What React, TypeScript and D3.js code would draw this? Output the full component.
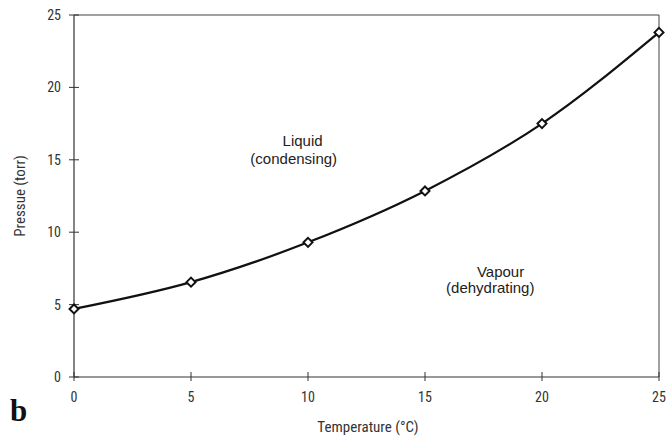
import React from 'react';
import * as d3 from 'd3';

const temps = [0, 5, 10, 15, 20, 25];
const pressures = [4.7, 6.55, 9.3, 12.85, 17.5, 23.8];
const xTicks = [0, 5, 10, 15, 20, 25];
const yTicks = [0, 5, 10, 15, 20, 25];

const W = 670;
const H = 437;
const M = { left: 74, right: 11, top: 15, bottom: 60 };
const NARROW = '"Liberation Sans Narrow", "Arial Narrow", "Roboto Condensed", Roboto, sans-serif';

export default function App() {
  const x = d3.scaleLinear().domain([0, 25]).range([M.left, W - M.right]);
  const y = d3.scaleLinear().domain([0, 25]).range([H - M.bottom, M.top]);
  const pts = temps.map((t, i) => [t, pressures[i]] as [number, number]);
  const line = d3.line<[number, number]>()
    .x(d => x(d[0]))
    .y(d => y(d[1]))
    .curve(d3.curveMonotoneX);
  const diamond = (cx: number, cy: number, r: number) =>
    `M${cx},${cy - r}L${cx + r},${cy}L${cx},${cy + r}L${cx - r},${cy}Z`;

  return (
    <svg width={W} height={H} style={{ position: 'absolute', left: 0, top: 0, background: '#fff' }}>
      {/* frame */}
      <line x1={x(0)} x2={x(25)} y1={y(25)} y2={y(25)} stroke="#444" strokeWidth={1} />
      <line x1={x(25)} x2={x(25)} y1={y(25)} y2={y(0)} stroke="#444" strokeWidth={1} />
      <line x1={x(0)} x2={x(0)} y1={y(25)} y2={y(0)} stroke="#333" strokeWidth={1.2} />
      <line x1={x(0)} x2={x(25)} y1={y(0)} y2={y(0)} stroke="#333" strokeWidth={1.2} />

      {yTicks.map(t => (
        <g key={'y' + t}>
          <line x1={x(0) - 5} x2={x(0) + 5} y1={y(t)} y2={y(t)} stroke="#333" strokeWidth={1} />
          <text x={x(0) - 13} y={y(t) + 5} textAnchor="end" fontFamily={NARROW} fontSize={14} fill="#333">{t}</text>
        </g>
      ))}
      {xTicks.map(t => (
        <g key={'x' + t}>
          <line x1={x(t)} x2={x(t)} y1={y(0) - 5} y2={y(0) + 4} stroke="#333" strokeWidth={1} />
          <text x={x(t)} y={y(0) + 25} textAnchor="middle" fontFamily={NARROW} fontSize={14} fill="#333">{t}</text>
        </g>
      ))}

      <text x={368} y={432} textAnchor="middle" fontFamily={NARROW} fontSize={15} fill="#333">Temperature (°C)</text>
      <text transform={`translate(25,196) rotate(-90)`} textAnchor="middle" fontFamily={NARROW} fontSize={15} fill="#333">Pressue (torr)</text>

      <text x={10} y={421} fontFamily='"Liberation Serif", "DejaVu Serif", serif' fontWeight="bold" fontSize={31} fill="#111">b</text>

      <path d={line(pts) || ''} fill="none" stroke="#111" strokeWidth={2.2} />
      {pts.map((d, i) => (
        <path key={i} d={diamond(x(d[0]), y(d[1]), 4.5)} fill="#fff" stroke="#111" strokeWidth={2} />
      ))}

      <g fontFamily='"Liberation Sans", Arial, sans-serif' fontSize={15} fill="#222" textAnchor="middle">
        <text x={x(9.77)} y={y(15.95)}>Liquid</text>
        <text x={x(9.39)} y={y(14.71)}>(condensing)</text>
        <text x={x(18.23)} y={y(6.9)}>Vapour</text>
        <text x={x(17.79)} y={y(5.8)}>(dehydrating)</text>
      </g>
    </svg>
  );
}
